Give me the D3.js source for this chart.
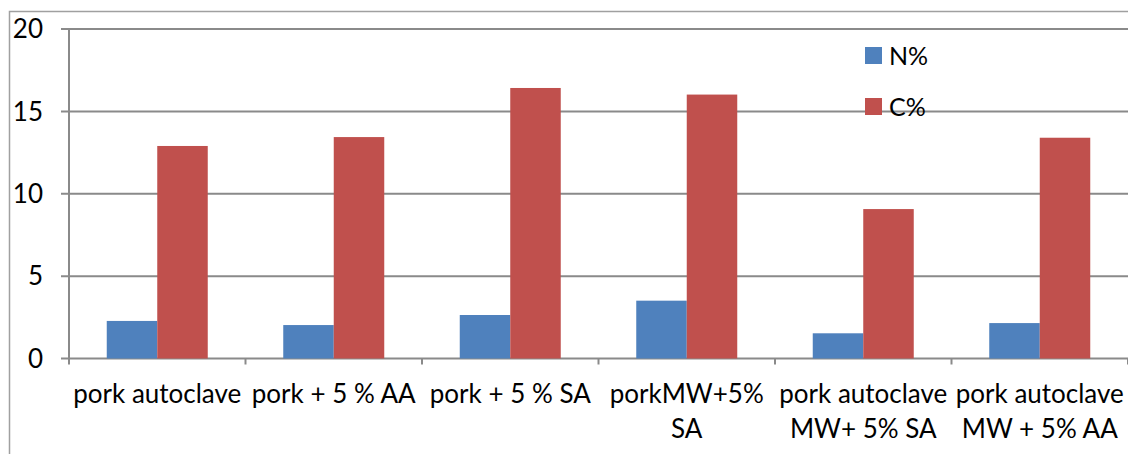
<!DOCTYPE html>
<html><head><meta charset="utf-8">
<script src="https://cdn.jsdelivr.net/npm/d3@7"></script>
<style>body{margin:0;background:#fff}svg{display:block}text{font-family:Lato,"Open Sans",sans-serif;fill:#000}</style>
</head><body>
<svg id="c" width="1128" height="454"></svg>
<script>
const categories = [["pork autoclave"],["pork + 5 % AA"],["pork + 5 % SA"],["porkMW+5%","SA"],["pork autoclave","MW+ 5% SA"],["pork autoclave","MW + 5% AA"]];
const seriesNames = ["N%","C%"];
const nValues = [2.28, 2.03, 2.64, 3.51, 1.53, 2.15];
const cValues = [12.9, 13.44, 16.42, 16.02, 9.07, 13.4];
const yTicks = [0,5,10,15,20];
const colors = ["#4f81bd","#c0504d"];

const svg = d3.select("#c");
const m = {l:69, r:1128, t:29, b:358.5};
const x = d3.scaleBand().domain(d3.range(categories.length)).range([m.l, m.r]).paddingInner(0).paddingOuter(0);
const y = d3.scaleLinear().domain([0,20]).range([m.b, m.t]);

// outer border
svg.append("path").attr("d","M9.5,454 V11.5 H1128").attr("fill","none").attr("stroke","#a0a0a0").attr("stroke-width",1.5);

// grid
svg.append("g").selectAll("line").data(yTicks).join("line")
  .attr("x1",61).attr("x2",m.r).attr("y1",d=>y(d)).attr("y2",d=>y(d))
  .attr("stroke","#8a8a8a").attr("stroke-width",2);
svg.append("line").attr("x1",m.l).attr("x2",m.l).attr("y1",m.t).attr("y2",m.b+5).attr("stroke","#8a8a8a").attr("stroke-width",2);
// x ticks
svg.append("g").selectAll("line").data(d3.range(categories.length+1)).join("line")
  .attr("x1",i=>m.l+i*x.step()).attr("x2",i=>m.l+i*x.step()).attr("y1",m.b).attr("y2",m.b+6)
  .attr("stroke","#8a8a8a").attr("stroke-width",2);

// y labels
svg.append("g").selectAll("text").data(yTicks).join("text")
  .attr("x",43).attr("y",d=>y(d)).attr("dy","0.36em").attr("text-anchor","end")
  .attr("font-size",26).text(d=>d);

// bars
const bw = 50.5;
const data = [nValues, cValues];
data.forEach((vals,s)=>{
  svg.append("g").selectAll("rect").data(vals).join("rect")
    .attr("x",(d,i)=>x(i)+x.bandwidth()/2 - bw + s*bw)
    .attr("width",bw)
    .attr("y",d=>y(d)).attr("height",d=>y(0)-y(d))
    .attr("fill",colors[s]);
});

// x labels
const xl = svg.append("g").selectAll("text").data(categories).join("text")
  .attr("text-anchor","middle").attr("font-size",26)
  .attr("transform",(d,i)=>`translate(${x(i)+x.bandwidth()/2},403)`);
xl.selectAll("tspan").data(d=>d).join("tspan").attr("x",0).attr("dy",(d,j)=>j?35:0).text(d=>d);

// legend
const lg = svg.append("g").selectAll("g").data(seriesNames).join("g")
  .attr("transform",(d,i)=>`translate(865,${47+i*51})`);
lg.append("rect").attr("width",17).attr("height",17).attr("fill",(d,i)=>colors[i]);
lg.append("text").attr("x",24).attr("y",8.5).attr("dy","0.36em").attr("font-size",25).text(d=>d);
</script>
</body></html>
